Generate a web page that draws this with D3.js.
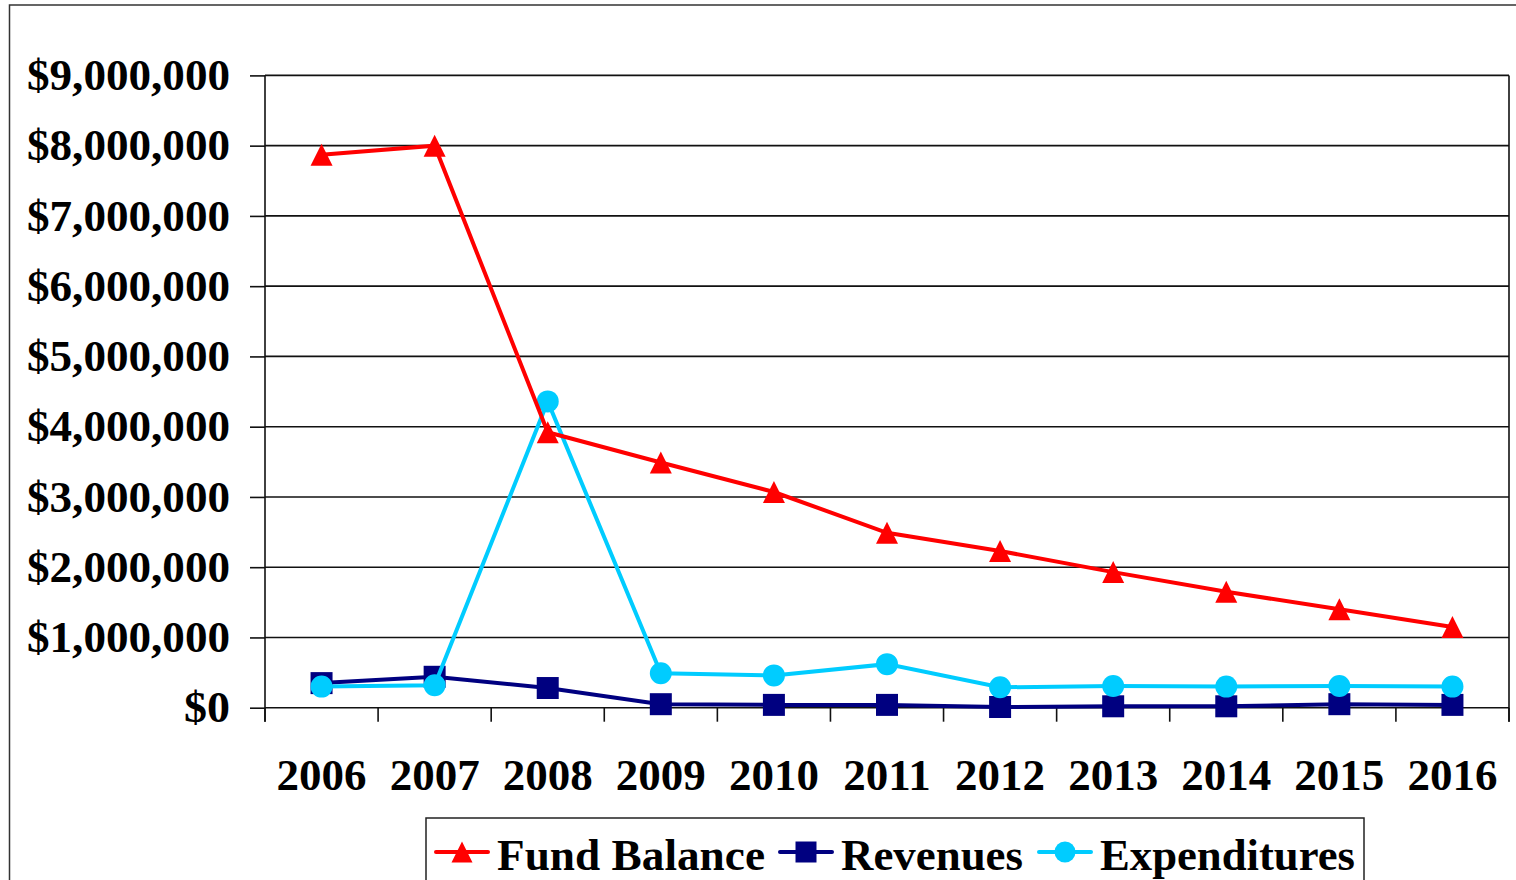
<!DOCTYPE html>
<html>
<head>
<meta charset="utf-8">
<script src="https://cdn.jsdelivr.net/npm/d3@7"></script>
<style>
    body { margin: 0; background: #fff; }
    text { font-family: "Liberation Serif", "Times New Roman", serif; font-weight: bold; fill: #000; }
</style>
</head>
<body>
<div id="chart"></div>
<script>
// chart data, values in dollars
var years = ["2006", "2007", "2008", "2009", "2010", "2011", "2012", "2013", "2014", "2015", "2016"];
var fundBalance = [7870000, 8000000, 3920000, 3490000, 3070000, 2490000, 2230000, 1930000, 1650000, 1400000, 1150000];
var revenues = [350000, 440000, 280000, 50000, 40000, 40000, 10000, 20000, 20000, 50000, 40000];
var expenditures = [300000, 320000, 4360000, 490000, 460000, 620000, 290000, 310000, 300000, 310000, 300000];
var yTicks = [0, 1000000, 2000000, 3000000, 4000000, 5000000, 6000000, 7000000, 8000000, 9000000];
var seriesNames = ["Fund Balance", "Revenues", "Expenditures"];

function drawChart() {
    var width = 1516;
    var height = 880;

    var svg = d3.select("#chart").append("svg")
        .attr("width", width)
        .attr("height", height)
        .style("display", "block");

    //outer chart border, runs off the right and bottom of the picture
    svg.append("rect")
        .attr("x", 9.5)
        .attr("y", 5)
        .attr("width", 1600)
        .attr("height", 1000)
        .style("fill", "none")
        .style("stroke", "#333")
        .style("stroke-width", 1.5);

    var x = d3.scaleBand()
        .domain(years)
        .range([265, 1509])
        .padding(0);

    var y = d3.scaleLinear()
        .domain([0, 9000000])
        .range([707.7, 75.4]);

    //horizontal gridlines
    svg.append("g")
        .selectAll("line")
        .data(yTicks)
        .enter()
        .append("line")
        .attr("x1", 265)
        .attr("x2", 1509)
        .attr("y1", function (d) { return y(d); })
        .attr("y2", function (d) { return y(d); })
        .style("stroke", "#111")
        .style("stroke-width", 1.6);

    //right border of plot area
    svg.append("line")
        .attr("x1", 1509).attr("x2", 1509)
        .attr("y1", y(9000000)).attr("y2", y(0) + 14)
        .style("stroke", "#111")
        .style("stroke-width", 1.6);

    //y axis
    var yAxis = svg.append("g")
        .attr("transform", "translate(265,0)")
        .call(d3.axisLeft(y)
            .tickValues(yTicks)
            .tickSize(15)
            .tickPadding(20)
            .tickFormat(d3.format("$,")));

    yAxis.select(".domain").remove();
    yAxis.selectAll(".tick line").style("stroke", "#111").style("stroke-width", 1.6);
    yAxis.selectAll("text")
        .style("font-size", "44px")
        .attr("textLength", function (d) { return d == 0 ? 46 : 203; })
        .attr("lengthAdjust", "spacingAndGlyphs");

    svg.append("line")
        .attr("x1", 265).attr("x2", 265)
        .attr("y1", y(9000000)).attr("y2", y(0) + 14)
        .style("stroke", "#111")
        .style("stroke-width", 1.6);

    //x ticks sit between categories
    var bounds = years.map(function (d) { return x(d); }).concat([x.range()[1]]);
    svg.append("g")
        .selectAll("line")
        .data(bounds)
        .enter()
        .append("line")
        .attr("x1", function (d) { return d; })
        .attr("x2", function (d) { return d; })
        .attr("y1", y(0))
        .attr("y2", y(0) + 14)
        .style("stroke", "#111")
        .style("stroke-width", 1.6);

    var xAxis = svg.append("g")
        .attr("transform", "translate(0," + y(0) + ")")
        .call(d3.axisBottom(x).tickSize(0).tickPadding(0));

    xAxis.select(".domain").remove();
    xAxis.selectAll("text")
        .attr("y", 82)
        .attr("dy", 0)
        .style("font-size", "45px");

    var series = [
        {name: seriesNames[0], values: fundBalance, color: "#ff0000", marker: "triangle"},
        {name: seriesNames[1], values: revenues, color: "#000080", marker: "square"},
        {name: seriesNames[2], values: expenditures, color: "#00ccff", marker: "circle"}
    ];

    var line = d3.line()
        .x(function (d, i) { return x(years[i]) + x.bandwidth() / 2; })
        .y(function (d) { return y(d); });

    //draw order: revenues, then expenditures, fund balance on top
    [series[1], series[2], series[0]].forEach(function (s) {
        svg.append("path")
            .datum(s.values)
            .attr("d", line)
            .style("fill", "none")
            .style("stroke", s.color)
            .style("stroke-width", 4);

        svg.append("g")
            .selectAll("path")
            .data(s.values)
            .enter()
            .append("path")
            .attr("d", function (d, i) {
                return markerPath(s.marker, x(years[i]) + x.bandwidth() / 2, y(d), 22);
            })
            .style("fill", s.color);
    });

    //legend
    var legend = svg.append("g");

    legend.append("rect")
        .attr("x", 426)
        .attr("y", 818)
        .attr("width", 938)
        .attr("height", 120)
        .style("fill", "#fff")
        .style("stroke", "#222")
        .style("stroke-width", 1.5);

    var legendX = [436, 780, 1039];
    var legendW = [268, 182, 255];
    series.forEach(function (s, i) {
        var lx = legendX[i];
        legend.append("line")
            .attr("x1", lx).attr("x2", lx + 52)
            .attr("y1", 852).attr("y2", 852)
            .style("stroke", s.color)
            .style("stroke-width", 4)
            .style("stroke-linecap", "round");
        legend.append("path")
            .attr("d", markerPath(s.marker, lx + 26, 852, 21))
            .style("fill", s.color);
        legend.append("text")
            .attr("x", lx + 61)
            .attr("y", 870)
            .style("font-size", "45px")
            .attr("textLength", legendW[i])
            .attr("lengthAdjust", "spacingAndGlyphs")
            .text(s.name);
    });
}

function markerPath(type, cx, cy, size) {
    var h = size / 2;
    if (type == "triangle") {
        return "M" + cx + "," + (cy - h) + "L" + (cx + h) + "," + (cy + h) + "L" + (cx - h) + "," + (cy + h) + "Z";
    }
    if (type == "square") {
        return "M" + (cx - h) + "," + (cy - h) + "h" + size + "v" + size + "h" + (-size) + "Z";
    }
    return "M" + (cx - h) + "," + cy + "a" + h + "," + h + " 0 1,0 " + size + ",0a" + h + "," + h + " 0 1,0 " + (-size) + ",0Z";
}

drawChart();
</script>
</body>
</html>
